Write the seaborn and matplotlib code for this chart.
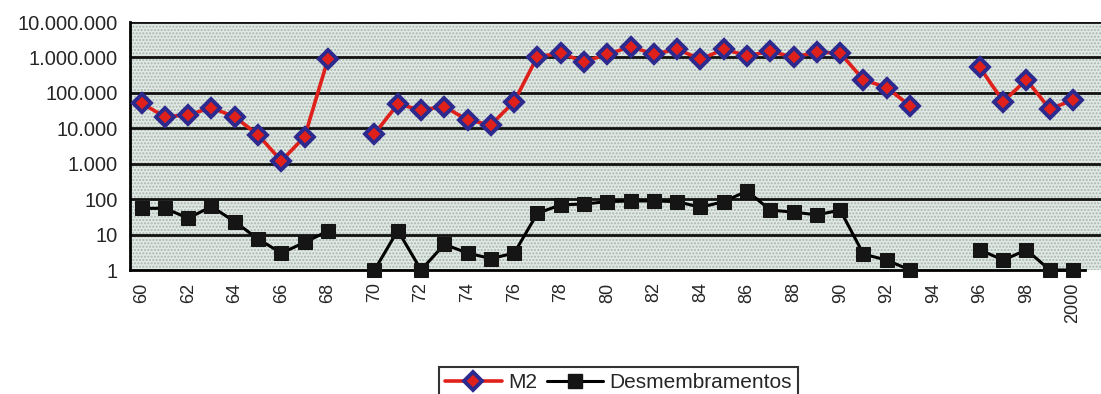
import numpy as np
import pandas as pd
import matplotlib
matplotlib.use('Agg')
import matplotlib.pyplot as plt
import seaborn as sns
from matplotlib.lines import Line2D
from matplotlib.patches import Rectangle

# Years (categories) shown on the x axis
years = ['60', '61', '62', '63', '64', '65', '66', '67', '68', '69',
         '70', '71', '72', '73', '74', '75', '76', '77', '78', '79',
         '80', '81', '82', '83', '84', '85', '86', '87', '88', '89',
         '90', '91', '92', '93', '94', '95', '96', '97', '98', '99', '2000']

# M2 values (nan = no data)
m2 = [51000, 21000, 24000, 38000, 21000, 6500, 1200, 5800, 890000, np.nan,
      7000, 48000, 33000, 41000, 17000, 12500, 57000, 1060000, 1300000, 760000,
      1230000, 2000000, 1250000, 1700000, 890000, 1700000, 1120000, 1480000, 1020000, 1400000,
      1320000, 234000, 141000, 43000, np.nan, np.nan, 520000, 57000, 234000, 35000,
      63000]

# Desmembramentos values
desm = [55, 55, 29, 62, 23, 7.5, 3, 6, 12.6, np.nan,
        1, 13, 1, 5.3, 3, 2.1, 3, 40, 69, 73,
        85, 89, 89, 85, 59, 85, 170, 49, 43, 36,
        49, 2.8, 1.9, 1, np.nan, np.nan, 3.7, 1.9, 3.7, 1,
        1]

y_ticks = [1, 10, 100, 1000, 10000, 100000, 1000000, 10000000]


def to_frame(values):
    df = pd.DataFrame({'x': np.arange(len(years)), 'y': values})
    # segment id changes at each gap so lines break there
    df['seg'] = df['y'].isna().cumsum()
    return df.dropna()


df_m2 = to_frame(m2)
df_desm = to_frame(desm)

sns.set_style('white')
plt.rcParams['font.family'] = ['Liberation Sans', 'DejaVu Sans']

fig = plt.figure(figsize=(11.01, 3.94), dpi=100)
ax = fig.add_axes([130 / 1101, 1 - 270 / 394, (1101 - 130) / 1101, 248 / 394])

# dotted grey-green background
ax.set_facecolor('#e0e9e4')
ax.add_patch(Rectangle((0, 0), 1, 1, transform=ax.transAxes, facecolor='none',
                       edgecolor='#aab4af', hatch='.....', linewidth=0, zorder=0))

sns.lineplot(data=df_m2, x='x', y='y', units='seg', estimator=None, ax=ax,
             color='#e0201b', linewidth=2.6, marker='D', markersize=9,
             markerfacecolor='#e0201b', markeredgecolor='#2d2a8f',
             markeredgewidth=2.8, clip_on=False, zorder=4, legend=False)
sns.lineplot(data=df_desm, x='x', y='y', units='seg', estimator=None, ax=ax,
             color='black', linewidth=2.2, marker='s', markersize=10,
             markerfacecolor='#151515', markeredgecolor='#151515',
             clip_on=False, zorder=4, legend=False)

ax.set_yscale('log')
ax.set_ylim(1, 1e7)
ax.set_yticks(y_ticks)
ax.set_yticklabels(['{:,}'.format(v).replace(',', '.') for v in y_ticks], fontsize=14.5)
ax.minorticks_off()
for v in y_ticks[1:]:
    ax.axhline(v, color='#111111', linewidth=2, zorder=1)

ax.set_xlim(-0.45, 41.2)
ax.set_xticks(np.arange(0, len(years), 2))
ax.set_xticklabels(years[::2], rotation=90, fontsize=13)
ax.set_xticks(np.arange(-0.5, len(years), 1), minor=True)
ax.tick_params(axis='x', which='major', length=0, pad=9)
ax.tick_params(axis='x', which='minor', length=6, width=1.8, color='black', direction='out')
ax.tick_params(axis='y', length=6, width=1.8, color='black', direction='out', pad=3)
ax.set_xlabel('')
ax.set_ylabel('')

for side in ['top', 'right']:
    ax.spines[side].set_visible(False)
for side in ['left', 'bottom']:
    ax.spines[side].set_color('black')
    ax.spines[side].set_linewidth(2)
ax.spines['bottom'].set_bounds(-0.5, 40.5)

handles = [
    Line2D([], [], color='#e0201b', linewidth=2.6, marker='D', markersize=9,
           markerfacecolor='#e0201b', markeredgecolor='#2d2a8f', markeredgewidth=2.8),
    Line2D([], [], color='black', linewidth=2.2, marker='s', markersize=10,
           markerfacecolor='#151515', markeredgecolor='#151515'),
]
leg = fig.legend(handles, ['M2', 'Desmembramentos'], loc='upper center',
                 bbox_to_anchor=(0.562, 0.095), ncol=2, fontsize=15,
                 frameon=True, fancybox=False, edgecolor='black',
                 handlelength=2.7, columnspacing=0.5, handletextpad=0.3,
                 borderpad=0.3)
leg.get_frame().set_linewidth(1.5)

fig.savefig('out.png', dpi=100)
